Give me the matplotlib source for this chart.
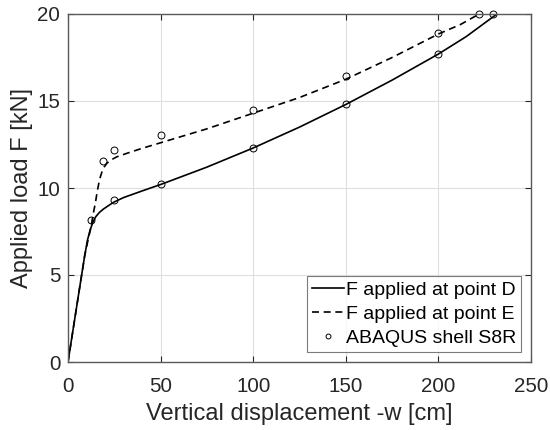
import matplotlib
matplotlib.use("Agg")
import matplotlib.pyplot as plt

# curve: F applied at point D
disp_D = [0, 5, 9, 10.5, 12, 13.5, 15, 17, 19, 22, 25, 30, 40, 50, 75, 100, 125, 150, 175, 200, 215, 231.6]
load_D = [0, 3.4, 6.1, 7.0, 7.6, 8.05, 8.35, 8.6, 8.78, 9.0, 9.2, 9.45, 9.83, 10.2, 11.2, 12.3, 13.5, 14.8, 16.2, 17.7, 18.7, 20.0]

# F applied at point E
disp_E = [0, 5, 9, 11, 12.5, 13.5, 14.8, 15.7, 16.6, 17.5, 18.4, 19.5, 21, 23, 26.5, 32, 40, 50, 75, 100, 125, 150, 175, 200, 212, 222]
load_E = [0, 3.4, 6.1, 7.1, 7.8, 8.45, 9.15, 9.75, 10.25, 10.65, 10.95, 11.2, 11.42, 11.6, 11.8, 12.0, 12.28, 12.6, 13.4, 14.3, 15.2, 16.25, 17.5, 18.85, 19.4, 20.0]

# ABAQUS shell S8R points
disp_abq = [12.5, 18.8, 25, 25, 50, 50, 100, 100, 150, 150, 200, 200, 222, 229.5]
load_abq = [8.14, 11.57, 12.17, 9.33, 13.03, 10.21, 14.48, 12.32, 16.42, 14.81, 18.93, 17.72, 20.0, 20.0]

plt.rcParams['font.family'] = ['Liberation Sans', 'DejaVu Sans']
axcol = '#262626'

fig = plt.figure(figsize=(5.5, 4.3), dpi=100)
ax = fig.add_axes([68 / 550, 1 - 362 / 430, (531 - 68) / 550, (362 - 14) / 430])

ax.plot(disp_D, load_D, color='k', linewidth=1.2, label='F applied at point D')
ax.plot(disp_E, load_E, color='k', linewidth=1.2, linestyle=(0, (4.2, 2.8)), label='F applied at point E')
ax.plot(disp_abq, load_abq, linestyle='', marker='o', markersize=5, markerfacecolor='none',
        markeredgecolor='k', markeredgewidth=0.7, clip_on=False, label='ABAQUS shell S8R')

ax.set_xlim(0, 250)
ax.set_ylim(0, 20)
ax.set_xticks([0, 50, 100, 150, 200, 250])
ax.set_yticks([0, 5, 10, 15, 20])
ax.grid(True, color='#dfdfdf', linewidth=0.8)
ax.set_axisbelow(True)

ax.tick_params(direction='in', top=True, right=True, length=4.5, width=0.8,
               labelsize=14.8, colors=axcol)
ax.tick_params(axis='x', pad=11)
ax.tick_params(axis='y', pad=5.5)
for s in ax.spines.values():
    s.set_color('#5a5a5a')
    s.set_linewidth(1.0)

ax.set_xlabel('Vertical displacement -w [cm]', fontsize=17, color=axcol, labelpad=5)
ax.set_ylabel('Applied load F [kN]', fontsize=17, color=axcol, labelpad=3)

leg = ax.legend(loc='lower right', bbox_to_anchor=(0.978, 0.03), borderaxespad=0,
                fontsize=14, frameon=True, fancybox=False, handlelength=1.65,
                handletextpad=0.1, labelspacing=0.33, borderpad=0.25, markerscale=0.7)
leg.get_frame().set_edgecolor('#5a5a5a')
leg.get_frame().set_linewidth(0.8)

fig.savefig('out.png', dpi=100)
